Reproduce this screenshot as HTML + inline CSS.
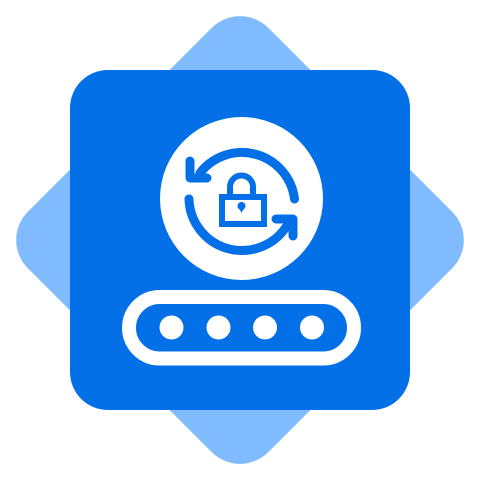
<!DOCTYPE html>
<html><head><style>html,body{margin:0;padding:0;background:#fff}svg{display:block}</style></head>
<body>
<svg width="480" height="480" viewBox="0 0 480 480" xmlns="http://www.w3.org/2000/svg">
<rect x="70" y="70" width="340" height="340" rx="40" fill="#80BBFF" transform="rotate(45 240 240)"/>
<rect x="70" y="70" width="340" height="340" rx="38" fill="#0370E8"/>
<circle cx="241.5" cy="198.5" r="81.5" fill="#fff"/>
<g fill="none" stroke="#0370E8" stroke-width="9" stroke-linecap="round" stroke-linejoin="round">
<path d="M200,173 A53,53 0 0 1 294.5,199"/>
<path d="M190,161 L190,178 L207,178"/>
<path d="M189,199 A53,53 0 0 0 286,227"/>
<path d="M276,219 L293,219 L293,236"/>
</g>
<g fill="none" stroke="#0370E8" stroke-width="6">
<path d="M230,196 V187 A11.5,11.5 0 0 1 253,187 V196"/>
<rect x="222" y="197" width="42" height="27"/>
</g>
<circle cx="241.5" cy="206" r="4" fill="#0370E8"/>
<path d="M238.5,207 L244.5,207 L241.5,213 Z" fill="#0370E8"/>
<rect x="129" y="297" width="225" height="61.5" rx="30.75" fill="none" stroke="#fff" stroke-width="14"/>
<g fill="#fff">
<circle cx="171.5" cy="327.5" r="12"/>
<circle cx="218.5" cy="327.5" r="12"/>
<circle cx="265" cy="327.5" r="12"/>
<circle cx="312" cy="327.5" r="12"/>
</g>
</svg>
</body></html>
